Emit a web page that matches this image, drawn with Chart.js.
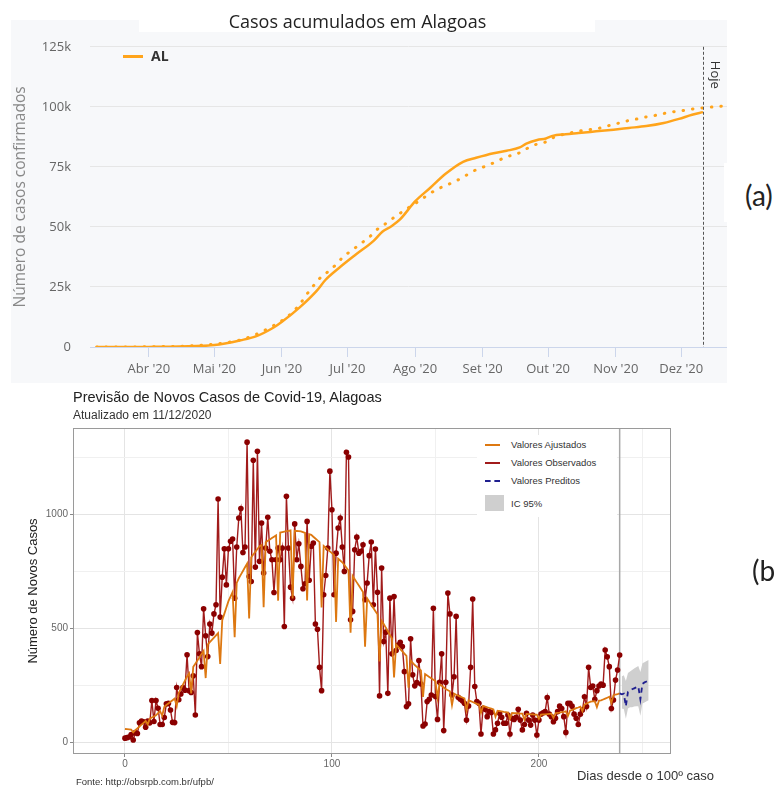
<!DOCTYPE html>
<html>
<head>
<meta charset="utf-8">
<script src="https://cdn.jsdelivr.net/npm/chart.js@4.4.0/dist/chart.umd.min.js"></script>
<style>
  html, body { margin: 0; padding: 0; background: #fff; width: 782px; height: 787px; overflow: hidden; }
  .abs { position: absolute; white-space: nowrap; }
  #wrapA { position: absolute; left: 11px; top: 20px; width: 716px; height: 363px; background: #f7f8fa; }
  #wrapB { position: absolute; left: 0; top: 385px; width: 782px; height: 402px; }
  .fa { font-family: 'Open Sans', sans-serif; }
  .fb { font-family: 'Liberation Sans', Arial, sans-serif; }
</style>
</head>
<body>
<div id="wrapA"><canvas id="chartA" width="716" height="363"></canvas></div>
<div class="abs" style="left:139px;top:0;width:456px;height:32px;background:#fff;"></div>
<div class="abs fa" style="left:190px;width:335px;top:9px;line-height:24px;font-size:18px;color:#222;text-align:center;">Casos acumulados em Alagoas</div>
<div class="abs" style="left:123px;top:55px;width:20px;height:3px;background:#ffa41b;"></div>
<div class="abs fa" style="left:151px;top:46px;line-height:20px;font-size:14px;font-weight:bold;color:#333;">AL</div>
<div class="abs" style="left:724px;top:163px;width:58px;height:59px;background:#fff;"></div>
<div class="abs" style="left:745px;top:178px;line-height:34px;font-size:28px;color:#222;font-family:Lato, sans-serif;">(a)</div>

<div id="wrapB"><canvas id="chartB" width="782" height="402"></canvas></div>
<div class="abs fb" style="left:73px;top:388px;line-height:18px;font-size:14.5px;color:#222;">Previsão de Novos Casos de Covid-19, Alagoas</div>
<div class="abs fb" style="left:73px;top:407px;line-height:16px;font-size:12px;color:#333;">Atualizado em 11/12/2020</div>
<div class="abs" style="left:477px;top:435px;width:140px;height:82px;background:#fff;"></div>
<div class="abs" style="left:485px;top:444px;width:15px;height:2px;background:#dd7811;"></div>
<div class="abs" style="left:485px;top:462px;width:15px;height:2px;background:#a11b1b;"></div>
<div class="abs" style="left:485px;top:480px;width:15px;height:0;border-top:2px dashed #1f1f8f;"></div>
<div class="abs" style="left:485px;top:495px;width:19px;height:16px;background:#cfcfcf;"></div>
<div class="abs fb" style="left:511px;top:439px;line-height:12px;font-size:9.5px;color:#333;">Valores Ajustados</div>
<div class="abs fb" style="left:511px;top:457px;line-height:12px;font-size:9.5px;color:#333;">Valores Observados</div>
<div class="abs fb" style="left:511px;top:475px;line-height:12px;font-size:9.5px;color:#333;">Valores Preditos</div>
<div class="abs fb" style="left:511px;top:498px;line-height:12px;font-size:9.5px;color:#333;">IC 95%</div>
<div class="abs fb" style="right:68px;top:767px;line-height:17px;font-size:13px;color:#333;">Dias desde o 100º caso</div>
<div class="abs fb" style="left:76px;top:776px;line-height:12px;font-size:9.5px;color:#333;">Fonte: http://obsrpb.com.br/ufpb/</div>
<div class="abs" style="left:752px;top:553px;line-height:34px;font-size:28px;color:#222;font-family:Lato, sans-serif;">(b</div>

<script>
// ---- chart (a): casos acumulados ----
const monthDays = [31, 61, 92, 122, 153, 184, 214, 245, 275];
const monthLabels = ["Abr '20", "Mai '20", "Jun '20", "Jul '20", "Ago '20", "Set '20", "Out '20", "Nov '20", "Dez '20"];
const hojeDay = 285;

// days since 1 Mar 2020
const alDays = [7, 20, 31, 45, 61, 73, 80, 88, 92, 100, 108, 112, 118, 126, 134, 138, 142, 146, 153, 160, 167, 175, 181, 189, 195, 201, 204, 209, 213, 216, 222, 228, 236, 244, 251, 259, 267, 274, 280, 285];
const alCases = [0, 20, 50, 200, 800, 2800, 4400, 8000, 10500, 16400, 23500, 28000, 32800, 38600, 44200, 48000, 50200, 53000, 60600, 66300, 72100, 77100, 78800, 80700, 81700, 83100, 84700, 86200, 86800, 87900, 88600, 89100, 89800, 90500, 91200, 92000, 93300, 95000, 96700, 97800];

const modelDays = [7, 31, 61, 75, 88, 95, 100, 103, 106, 109, 113, 117, 120, 124, 128, 132, 135, 139, 143, 147, 151, 155, 159, 163, 168, 173, 177, 181, 186, 190, 195, 200, 204, 208, 213, 217, 222, 227, 232, 236, 241, 245, 250, 255, 259, 264, 270, 274, 280, 284, 289, 294];
const modelCases = [0, 100, 1200, 3500, 8800, 13000, 17600, 21500, 25000, 28300, 31300, 34500, 37500, 40200, 43000, 45700, 48500, 51000, 53700, 56200, 58600, 60900, 63400, 65600, 67600, 69700, 71800, 73800, 75500, 77100, 79200, 80500, 82500, 84200, 85400, 87500, 88700, 89700, 90400, 90800, 92000, 92900, 94100, 95000, 95800, 96600, 97800, 98200, 99100, 99500, 99900, 100300];

// ---- chart (b): novos casos ----
// index = dias desde o 100o caso
const observed = [
    20, 22, 25, 36, 12, 44, 40, 87, 95, 92,
    68, 95, 87, 185, 93, 185, 151, 80, 80, 110,
    170, 172, 143, 89, 88, 242, 188, 213, 242, 230,
    385, 228, 220, 293, 121, 482, 389, 333, 586, 468,
    377, 520, 480, 564, 604, 1067, 550, 725, 849, 691,
    849, 882, 892, 633, 857, 984, 1025, 833, 857, 1316,
    728, 706, 1237, 769, 1276, 794, 962, 743, 852, 987,
    838, 801, 658, 801, 852, 801, 852, 509, 1079, 852,
    681, 633, 958, 801, 871, 772, 674, 696, 969, 711,
    860, 874, 520, 497, 330, 228, 648, 732, 852, 1189,
    1020, 648, 830, 940, 984, 857, 750, 1272, 1251, 538,
    575, 845, 900, 830, 838, 867, 626, 699, 819, 879,
    604, 848, 659, 205, 765, 443, 484, 216, 633, 389,
    640, 404, 428, 440, 421, 311, 158, 170, 455, 297,
    249, 263, 360, 257, 73, 82, 180, 190, 209, 589,
    202, 102, 265, 389, 53, 265, 655, 564, 209, 289,
    553, 199, 190, 184, 173, 99, 161, 330, 629, 246,
    180, 173, 38, 151, 146, 114, 136, 132, 38, 56,
    85, 129, 111, 85, 85, 121, 38, 107, 102, 111,
    146, 99, 56, 80, 129, 99, 77, 121, 99, 34,
    99, 125, 131, 136, 198, 125, 114, 92, 107, 136,
    160, 150, 114, 45, 172, 172, 160, 125, 107, 80,
    125, 143, 201, 158, 330, 242, 248, 190, 228, 248,
    257, 252, 406, 376, 333, 150, 187, 274, 318, 384
];

const fitted = [
    60, 59, 58, 57, 45, 55, 63, 71, 79, 87,
    95, 80, 105, 110, 115, 120, 129, 138, 118, 156,
    165, 172, 179, 186, 193, 160, 218, 236, 254, 272,
    290, 304, 216, 332, 346, 360, 374, 388, 402, 283,
    430, 440, 450, 460, 470, 480, 345, 536, 564, 592,
    620, 640, 660, 462, 700, 720, 736, 752, 768, 784,
    544, 812, 824, 836, 848, 860, 866, 593, 878, 884,
    890, 896, 902, 908, 622, 920, 922, 924, 926, 928,
    930, 632, 928, 927, 926, 925, 922, 919, 623, 913,
    910, 902, 894, 886, 878, 592, 862, 854, 846, 838,
    830, 822, 529, 806, 798, 790, 778, 766, 754, 482,
    730, 716, 702, 688, 674, 660, 420, 632, 618, 604,
    590, 576, 562, 356, 534, 520, 504, 488, 472, 456,
    286, 430, 420, 410, 400, 390, 380, 241, 360, 350,
    340, 332, 324, 316, 200, 300, 294, 288, 282, 276,
    270, 197, 256, 249, 242, 235, 230, 225, 165, 215,
    210, 206, 202, 198, 194, 143, 186, 182, 178, 174,
    170, 167, 131, 161, 158, 155, 152, 149, 146, 114,
    140, 138, 137, 135, 134, 132, 105, 130, 129, 129,
    128, 127, 127, 101, 126, 125, 124, 124, 123, 123,
    104, 123, 124, 124, 125, 126, 127, 109, 129, 131,
    132, 134, 135, 137, 117, 140, 144, 147, 151, 154,
    158, 138, 167, 171, 176, 180, 181, 182, 156, 184,
    185, 189, 193, 197, 201, 174, 208, 211, 213, 216
];

const predDays = [239, 240, 241, 242, 243, 244, 245, 246, 247, 248, 249, 250, 251, 252, 253];
const predValues = [216, 212, 215, 160, 222, 228, 234, 238, 242, 246, 190, 258, 264, 268, 272];

const icDays = [240, 241, 242, 243, 244, 245, 246, 247, 248, 249, 250, 251, 252, 253];
const icUpper = [290, 295, 270, 305, 312, 318, 325, 330, 336, 310, 348, 352, 358, 362];
const icLower = [150, 148, 105, 150, 155, 155, 158, 160, 160, 118, 172, 176, 182, 186];

const lastObservedDay = 239;
const xTicksB = [0, 50, 100, 150, 200, 250];
const yTicksB = [0, 250, 500, 750, 1000, 1250];

const fontA = "'Open Sans', sans-serif";
const fontB = "'Liberation Sans', Arial, sans-serif";
const orange = "#ffa41b";

function pairs(xs, ys) {
    return xs.map((x, i) => ({ x: x, y: ys[i] }));
}

// "Hoje" marker
const hojeLine = {
    id: "hojeLine",
    afterDatasetsDraw(chart) {
        const { ctx, chartArea, scales } = chart;
        const x = Math.round(scales.x.getPixelForValue(hojeDay)) + 0.5;
        ctx.save();
        ctx.strokeStyle = "#555";
        ctx.lineWidth = 1;
        ctx.setLineDash([3, 2]);
        ctx.beginPath();
        ctx.moveTo(x, chartArea.top);
        ctx.lineTo(x, chartArea.bottom);
        ctx.stroke();
        ctx.setLineDash([]);
        ctx.translate(x + 11, chartArea.top + 14);
        ctx.rotate(Math.PI / 2);
        ctx.fillStyle = "#333";
        ctx.font = "13px " + fontA;
        ctx.textBaseline = "middle";
        ctx.fillText("Hoje", 0, 0);
        ctx.restore();
    },
};

const chartA = new Chart(document.getElementById("chartA"), {
    type: "line",
    data: {
        datasets: [{
                label: "AL",
                data: pairs(alDays, alCases),
                borderColor: orange,
                borderWidth: 2.5,
                pointRadius: 0,
                cubicInterpolationMode: "monotone",
            },
            {
                label: "Modelo",
                data: pairs(modelDays, modelCases),
                borderColor: orange,
                borderWidth: 3,
                borderDash: [0.5, 9],
                borderCapStyle: "round",
                pointRadius: 0,
                cubicInterpolationMode: "monotone",
            },
        ],
    },
    options: {
        responsive: false,
        animation: false,
        devicePixelRatio: 1,
        layout: { padding: { top: 24, right: 0, left: 0, bottom: 0 } },
        plugins: {
            legend: { display: false },
            tooltip: { enabled: false },
        },
        scales: {
            x: {
                type: "linear",
                min: 4,
                max: 296,
                afterBuildTicks: (s) => { s.ticks = monthDays.map((v) => ({ value: v })); },
                afterFit: (s) => { s.height = 36; },
                ticks: {
                    autoSkip: false,
                    maxRotation: 0,
                    padding: 4,
                    color: "#666",
                    font: { family: fontA, size: 13 },
                    callback: (v) => monthLabels[monthDays.indexOf(v)],
                },
                grid: { drawOnChartArea: false, tickLength: 10, color: "#ccd6eb" },
                border: { color: "#ccd6eb" },
            },
            y: {
                min: 0,
                max: 125000,
                afterFit: (s) => { s.width = 79; },
                ticks: {
                    stepSize: 25000,
                    padding: 19,
                    color: "#666",
                    font: { family: fontA, size: 13 },
                    callback: (v) => (v === 0 ? "0" : v / 1000 + "k"),
                },
                grid: { color: "#e6e6e6", drawTicks: false },
                border: { display: false },
                title: {
                    display: true,
                    text: "Número de casos confirmados",
                    color: "#888",
                    font: { family: fontA, size: 15.5 },
                    padding: 0,
                },
            },
        },
    },
    plugins: [hojeLine],
});

// panel border + line at the last observed day
const panelB = {
    id: "panelB",
    beforeDatasetsDraw(chart) {
        const { ctx, chartArea, scales } = chart;
        const x = scales.x.getPixelForValue(lastObservedDay);
        ctx.save();
        ctx.strokeStyle = "#a8a8a8";
        ctx.lineWidth = 1.5;
        ctx.beginPath();
        ctx.moveTo(x, chartArea.top);
        ctx.lineTo(x, chartArea.bottom);
        ctx.stroke();
        ctx.restore();
    },
    afterDraw(chart) {
        const { ctx, chartArea } = chart;
        ctx.save();
        ctx.strokeStyle = "#9a9a9a";
        ctx.lineWidth = 1;
        ctx.strokeRect(chartArea.left + 0.5, chartArea.top + 0.5,
            chartArea.right - chartArea.left - 1, chartArea.bottom - chartArea.top - 1);
        ctx.restore();
    },
};

const chartB = new Chart(document.getElementById("chartB"), {
    type: "line",
    data: {
        datasets: [{
                label: "Valores Ajustados",
                data: fitted.map((v, i) => ({ x: i, y: v })),
                borderColor: "#dd7811",
                borderWidth: 1.8,
                pointRadius: 0,
                order: 1,
            },
            {
                label: "Valores Observados",
                data: observed.map((v, i) => ({ x: i, y: v })),
                borderColor: "#a11b1b",
                borderWidth: 1.4,
                pointRadius: 2.8,
                pointBorderWidth: 0,
                pointBackgroundColor: "#8b0000",
                order: 2,
            },
            {
                label: "IC inferior",
                data: pairs(icDays, icLower),
                borderWidth: 0,
                pointRadius: 0,
                fill: false,
                order: 4,
            },
            {
                label: "IC 95%",
                data: pairs(icDays, icUpper),
                borderWidth: 0,
                pointRadius: 0,
                backgroundColor: "#cfcfcf",
                fill: "-1",
                order: 4,
            },
            {
                label: "Valores Preditos",
                data: pairs(predDays, predValues),
                borderColor: "#1f1f8f",
                borderWidth: 1.8,
                borderDash: [5, 4],
                pointRadius: 0,
                order: 0,
            },
        ],
    },
    options: {
        responsive: false,
        animation: false,
        devicePixelRatio: 1,
        layout: { padding: { top: 43, right: 111, left: 0, bottom: 0 } },
        plugins: {
            legend: { display: false },
            tooltip: { enabled: false },
        },
        scales: {
            x: {
                type: "linear",
                min: -25.1,
                max: 263.8,
                afterBuildTicks: (s) => { s.ticks = xTicksB.map((v) => ({ value: v })); },
                afterFit: (s) => { s.height = 33; },
                ticks: {
                    autoSkip: false,
                    maxRotation: 0,
                    padding: 1,
                    color: "#666",
                    font: { family: fontB, size: 10 },
                    callback: (v) => (v % 100 === 0 ? String(v) : ""),
                },
                grid: {
                    tickLength: 3,
                    color: (c) => (c.tick && c.tick.value % 100 === 0 ? "#e4e4e4" : "#f0f0f0"),
                    tickColor: (c) => (c.tick && c.tick.value % 100 === 0 ? "#888" : "rgba(0,0,0,0)"),
                },
                border: { display: false },
            },
            y: {
                min: -49.5,
                max: 1378,
                afterBuildTicks: (s) => { s.ticks = yTicksB.map((v) => ({ value: v })); },
                afterFit: (s) => { s.width = 73; },
                ticks: {
                    padding: 2,
                    color: "#666",
                    font: { family: fontB, size: 10 },
                    callback: (v) => (v % 500 === 0 ? String(v) : ""),
                },
                grid: {
                    tickLength: 3,
                    color: (c) => (c.tick && c.tick.value % 500 === 0 ? "#e4e4e4" : "#f0f0f0"),
                    tickColor: (c) => (c.tick && c.tick.value % 500 === 0 ? "#888" : "rgba(0,0,0,0)"),
                },
                border: { display: false },
                title: {
                    display: true,
                    text: "Número de Novos Casos",
                    color: "#222",
                    font: { family: fontB, size: 13 },
                    padding: { top: 26, bottom: 0 },
                },
            },
        },
    },
    plugins: [panelB],
});
</script>
</body>
</html>
